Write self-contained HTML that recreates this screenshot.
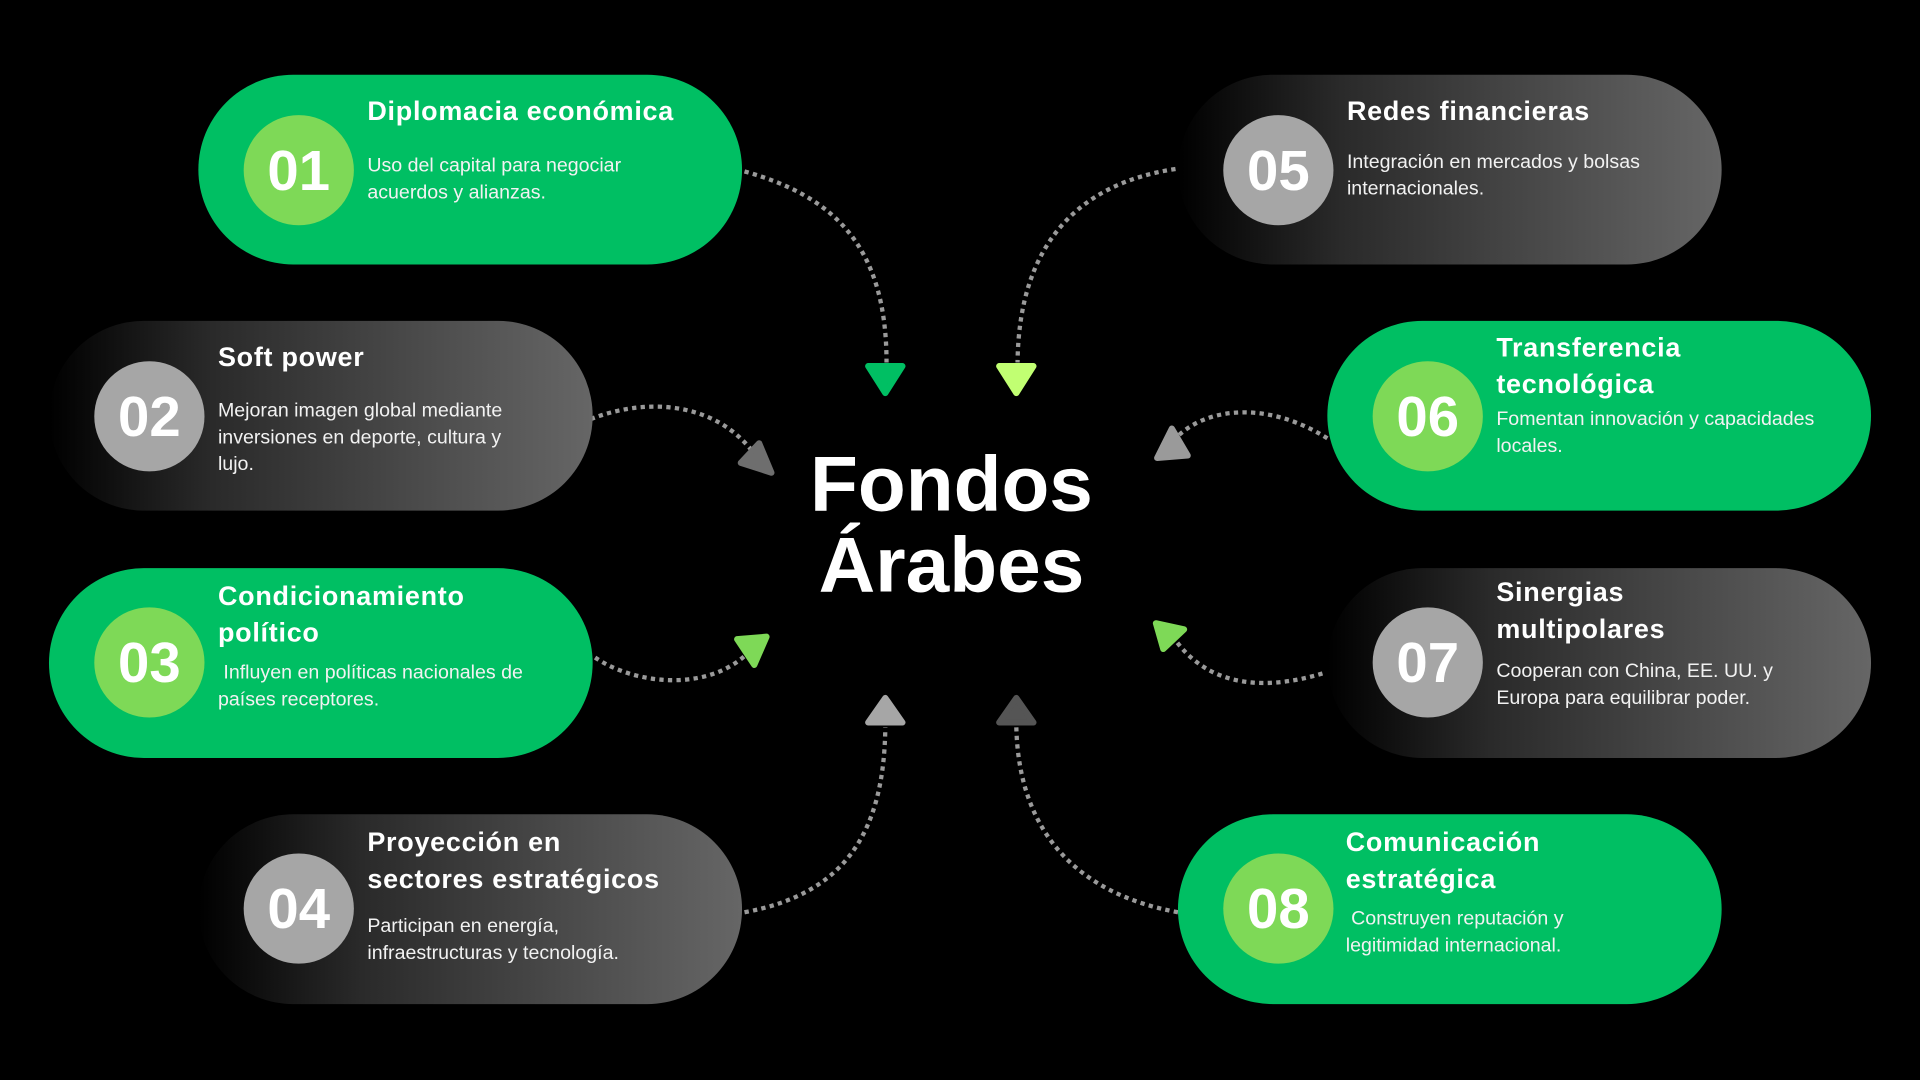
<!DOCTYPE html>
<html><head><meta charset="utf-8"><style>
html,body{margin:0;padding:0;background:#000;width:1920px;height:1080px;overflow:hidden}
#w{position:absolute;left:0;top:0;width:1568px;height:882px;transform:scale(1.22449);transform-origin:0 0;font-family:"Liberation Sans",sans-serif;color:#fff}
.card{position:absolute;width:444px;height:155px;border-radius:78px}
.g{background:#00bf63}
.d{background:linear-gradient(90deg,#000 0%,#2a2a2a 30%,#666 100%)}
.c{position:absolute;width:90px;height:90px;border-radius:50%;font-weight:bold;font-size:46px;line-height:90px;text-align:center;color:#fff}
.lg{background:#7ed957}.gr{background:#a6a6a6}
.t{position:absolute;font-weight:bold;font-size:22px;line-height:30px;letter-spacing:0.6px;white-space:nowrap}
.p{position:absolute;font-size:16px;line-height:22px;color:#f2f2f2;white-space:nowrap}
#title{position:absolute;left:600px;top:362px;width:354px;text-align:center;font-weight:bold;font-size:64px;line-height:66px}
</style></head><body><div id="w">
<svg width="1568" height="882" style="position:absolute;left:0;top:0">
<g fill="none" stroke="#9a9a9a" stroke-width="3.5" stroke-dasharray="3.5 3.5">
<path d="M608 140 C680 160 724 200 724 296"/>
<path d="M960 138 C880 150 832 200 831 296"/>
<path d="M476 345 C520 325 580 325 614 368"/>
<path d="M1084 358 C1040 330 990 330 962 356"/>
<path d="M486 537 C520 560 580 565 612 532"/>
<path d="M1080 550 C1030 565 985 560 958 520"/>
<path d="M608 745 C690 730 722 680 723 594"/>
<path d="M962 745 C880 730 832 680 830 594"/>
</g>
<g stroke-linejoin="round" stroke-width="5">
<polygon points="709,299 737,299 723,321" fill="#00bf63" stroke="#00bf63"/>
<polygon points="816,299 844,299 830,321" fill="#c1ff72" stroke="#c1ff72"/>
<polygon points="620,362 630,386 605,378" fill="#6e6e6e" stroke="#6e6e6e"/>
<polygon points="957,350 970,372 945,374" fill="#9a9a9a" stroke="#9a9a9a"/>
<polygon points="602,522 626,520 616,543" fill="#7ed957" stroke="#7ed957"/>
<polygon points="944,509 967,514 950,530" fill="#7ed957" stroke="#7ed957"/>
<polygon points="723,570 737,590 709,590" fill="#a6a6a6" stroke="#a6a6a6"/>
<polygon points="830,570 844,590 816,590" fill="#555" stroke="#555"/>
</g>
</svg>

<div class="card g" style="left:162px;top:61px"></div>
<div class="c lg" style="left:199px;top:94px">01</div>
<div class="t" style="left:300px;top:76px">Diplomacia económica</div>
<div class="p" style="left:300px;top:125px">Uso del capital para negociar<br>acuerdos y alianzas.</div>

<div class="card d" style="left:40px;top:262px"></div>
<div class="c gr" style="left:77px;top:295px">02</div>
<div class="t" style="left:178px;top:277px">Soft power</div>
<div class="p" style="left:178px;top:325px">Mejoran imagen global mediante<br>inversiones en deporte, cultura y<br>lujo.</div>

<div class="card g" style="left:40px;top:464px"></div>
<div class="c lg" style="left:77px;top:496px">03</div>
<div class="t" style="left:178px;top:472px">Condicionamiento<br>político</div>
<div class="p" style="left:178px;top:539px">&nbsp;Influyen en políticas nacionales de<br>países receptores.</div>

<div class="card d" style="left:162px;top:665px"></div>
<div class="c gr" style="left:199px;top:697px">04</div>
<div class="t" style="left:300px;top:673px">Proyección en<br>sectores estratégicos</div>
<div class="p" style="left:300px;top:746px">Participan en energía,<br>infraestructuras y tecnología.</div>

<div class="card d" style="left:962px;top:61px"></div>
<div class="c gr" style="left:999px;top:94px">05</div>
<div class="t" style="left:1100px;top:76px">Redes financieras</div>
<div class="p" style="left:1100px;top:122px">Integración en mercados y bolsas<br>internacionales.</div>

<div class="card g" style="left:1084px;top:262px"></div>
<div class="c lg" style="left:1121px;top:295px">06</div>
<div class="t" style="left:1222px;top:269px">Transferencia<br>tecnológica</div>
<div class="p" style="left:1222px;top:332px">Fomentan innovación y capacidades<br>locales.</div>

<div class="card d" style="left:1084px;top:464px"></div>
<div class="c gr" style="left:1121px;top:496px">07</div>
<div class="t" style="left:1222px;top:469px">Sinergias<br>multipolares</div>
<div class="p" style="left:1222px;top:538px">Cooperan con China, EE. UU. y<br>Europa para equilibrar poder.</div>

<div class="card g" style="left:962px;top:665px"></div>
<div class="c lg" style="left:999px;top:697px">08</div>
<div class="t" style="left:1099px;top:673px">Comunicación<br>estratégica</div>
<div class="p" style="left:1099px;top:740px">&nbsp;Construyen reputación y<br>legitimidad internacional.</div>

<div id="title">Fondos<br>Árabes</div>
</div></body></html>
